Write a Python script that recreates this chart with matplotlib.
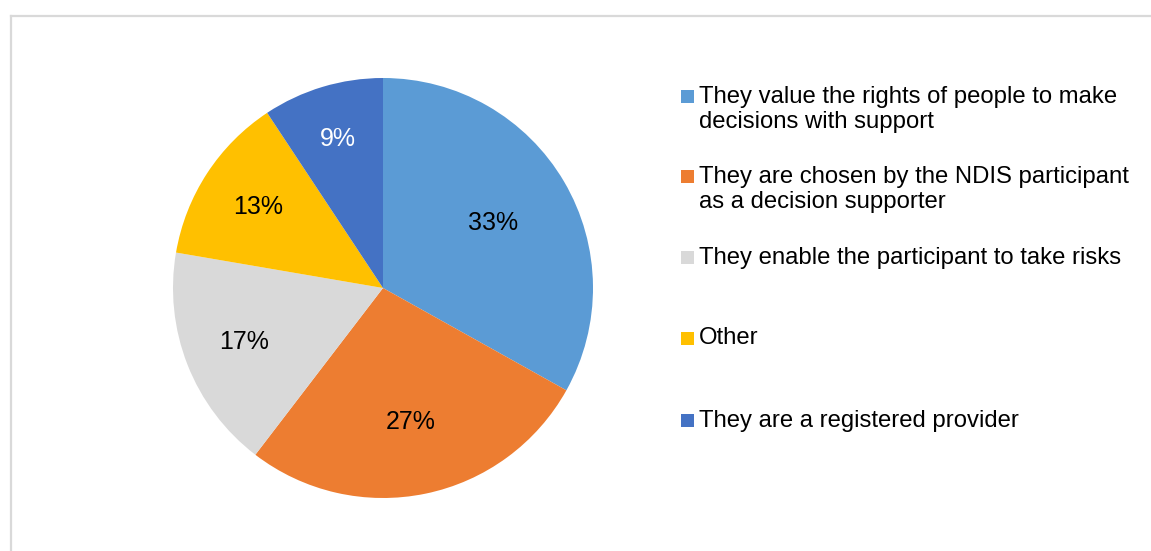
import matplotlib
matplotlib.use("Agg")
import matplotlib.pyplot as plt
from matplotlib.patches import Rectangle
from matplotlib.lines import Line2D
import numpy as np

categories = [
    "They value the rights of people to make\ndecisions with support",
    "They are chosen by the NDIS participant\nas a decision supporter",
    "They enable the participant to take risks",
    "Other",
    "They are a registered provider",
]
values = [33.1, 27.3, 17.3, 13.0, 9.3]
pct_labels = ["33%", "27%", "17%", "13%", "9%"]
colors = ["#5B9BD5", "#ED7D31", "#D9D9D9", "#FFC000", "#4472C4"]
label_colors = ["#000000", "#000000", "#000000", "#000000", "#FFFFFF"]

W, H = 1151, 551
fig = plt.figure(figsize=(W / 100, H / 100), dpi=100)
plt.rcParams['font.family'] = ['Liberation Sans', 'DejaVu Sans']

# border (top and left visible)
fig.add_artist(Line2D([10.5 / W, 1.0], [1 - 15.5 / H, 1 - 15.5 / H], color="#D9D9D9", lw=1.6, transform=fig.transFigure))
fig.add_artist(Line2D([10.5 / W, 10.5 / W], [0.0, 1 - 15.5 / H], color="#D9D9D9", lw=1.6, transform=fig.transFigure))

cx, cy, r = 383, 288, 210
ax = fig.add_axes([(cx - r) / W, (H - cy - r) / H, 2 * r / W, 2 * r / H])
wedges, _ = ax.pie(values, colors=colors, startangle=90, counterclock=False,
                   radius=1.0, wedgeprops=dict(linewidth=0))
ax.set_xlim(-1, 1)
ax.set_ylim(-1, 1)
ax.set_aspect("equal")
ax.axis("off")

# percentage labels
dists = [0.61, 0.65, 0.71, 0.71, 0.74]
for w, lab, d, tc in zip(wedges, pct_labels, dists, label_colors):
    ang = np.deg2rad((w.theta1 + w.theta2) / 2)
    ax.text(d * np.cos(ang), d * np.sin(ang), lab, ha="center", va="center",
            fontsize=18, color=tc)

# legend
entry_y = [96, 176, 257, 338, 420]
for lab, col, y in zip(categories, colors, entry_y):
    fig.add_artist(Rectangle((681 / W, 1 - (y + 6.5) / H), 13 / W, 13 / H,
                             facecolor=col, edgecolor="none", transform=fig.transFigure))
    fig.text(699 / W, 1 - (y - 10.5) / H, lab, ha="left", va="top", fontsize=17.2,
             color="#000000", linespacing=1.2)

fig.savefig("out.png", dpi=100)
